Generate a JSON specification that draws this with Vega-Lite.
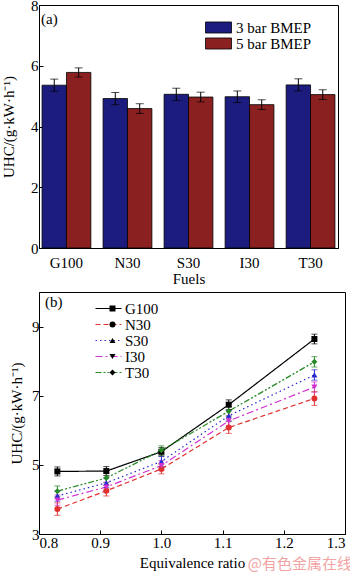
{
  "$schema": "https://vega.github.io/schema/vega-lite/v6.json",
  "padding": {"left": 1, "right": 0, "top": -3, "bottom": 0},
  "background": "white",
  "align": "none",
  "spacing": 4,
  "title": {"text": "@有色金属在线", "orient": "bottom", "anchor": "end", "offset": -14, "dx": 6, "color": "#f2a3a3", "fontSize": 15, "font": "Noto Sans CJK SC", "fontWeight": "normal"},
  "config": {
    "font": "Liberation Serif",
    "view": {"stroke": "black", "strokeWidth": 1},
    "axis": {"labelFont": "Liberation Serif", "titleFont": "Liberation Serif", "labelFontSize": 15, "titleFontSize": 15, "titleFontWeight": "normal", "labelColor": "black", "titleColor": "black", "tickColor": "black", "domainColor": "black", "grid": false},
    "legend": {"labelFont": "Liberation Serif", "labelFontSize": 15, "labelColor": "black", "padding": 0}
  },
  "vconcat": [
    {
      "name": "pa",
      "width": 299,
      "height": 243,
      "title": {"text": "(a)", "anchor": "start", "frame": "group", "offset": -29, "dx": 2, "fontSize": 15, "fontWeight": "normal", "font": "Liberation Serif", "color": "black"},
      "data": {"values": [
        {"fuel": "G100", "bmep": "3 bar BMEP", "value": 5.36, "lo": 5.16, "hi": 5.56},
        {"fuel": "G100", "bmep": "5 bar BMEP", "value": 5.78, "lo": 5.63, "hi": 5.93},
        {"fuel": "N30", "bmep": "3 bar BMEP", "value": 4.92, "lo": 4.72, "hi": 5.12},
        {"fuel": "N30", "bmep": "5 bar BMEP", "value": 4.59, "lo": 4.43, "hi": 4.75},
        {"fuel": "S30", "bmep": "3 bar BMEP", "value": 5.06, "lo": 4.86, "hi": 5.26},
        {"fuel": "S30", "bmep": "5 bar BMEP", "value": 4.97, "lo": 4.81, "hi": 5.13},
        {"fuel": "I30", "bmep": "3 bar BMEP", "value": 4.98, "lo": 4.79, "hi": 5.17},
        {"fuel": "I30", "bmep": "5 bar BMEP", "value": 4.72, "lo": 4.56, "hi": 4.88},
        {"fuel": "T30", "bmep": "3 bar BMEP", "value": 5.37, "lo": 5.17, "hi": 5.57},
        {"fuel": "T30", "bmep": "5 bar BMEP", "value": 5.05, "lo": 4.89, "hi": 5.21}
      ]},
      "encoding": {
        "x": {"field": "fuel", "type": "nominal", "sort": null, "scale": {"paddingInner": 0.2, "paddingOuter": 0.05}, "axis": {"title": "Fuels", "labelAngle": 0, "ticks": false, "labelPadding": 7, "titlePadding": 1}},
        "xOffset": {"field": "bmep", "type": "nominal", "scale": {"paddingInner": 0, "paddingOuter": 0}}
      },
      "layer": [
        {
          "mark": {"type": "bar", "stroke": "black", "strokeWidth": 0.8},
          "encoding": {
            "y": {"field": "value", "type": "quantitative", "scale": {"domain": [0, 8]}, "axis": {"title": "UHC/(g·kW·h⁻¹)", "values": [0, 2, 4, 6, 8], "tickSize": -4, "labelPadding": 5, "titlePadding": 14}},
            "fill": {"field": "bmep", "type": "nominal", "scale": {"range": ["#1c1c7e", "#8b2020"]}, "legend": {"title": null, "orient": "none", "legendX": 172, "legendY": 15, "symbolType": "M-2,-0.85H2V0.85H-2Z", "symbolSize": 169, "symbolStrokeColor": "black", "symbolStrokeWidth": 0.8, "labelOffset": 10, "rowPadding": -5}}
          }
        },
        {
          "mark": {"type": "rule", "color": "black", "strokeWidth": 1},
          "encoding": {"y": {"field": "lo", "type": "quantitative"}, "y2": {"field": "hi"}}
        },
        {
          "mark": {"type": "tick", "color": "black", "size": 8, "thickness": 1, "orient": "horizontal"},
          "encoding": {"y": {"field": "hi", "type": "quantitative"}}
        },
        {
          "mark": {"type": "tick", "color": "black", "size": 8, "thickness": 1, "orient": "horizontal"},
          "encoding": {"y": {"field": "lo", "type": "quantitative"}}
        }
      ]
    },
    {
      "name": "pb",
      "width": 306,
      "height": 242,
      "title": {"text": "(b)", "anchor": "start", "frame": "group", "offset": -18, "dx": 6, "fontSize": 15, "fontWeight": "normal", "font": "Liberation Serif", "color": "black"},
      "data": {"values": [
        {"fuel": "G100", "phi": 0.83, "value": 4.81, "lo": 4.68, "hi": 4.94},
        {"fuel": "G100", "phi": 0.91, "value": 4.82, "lo": 4.69, "hi": 4.95},
        {"fuel": "G100", "phi": 1.0, "value": 5.38, "lo": 5.26, "hi": 5.5},
        {"fuel": "G100", "phi": 1.11, "value": 6.74, "lo": 6.6, "hi": 6.88},
        {"fuel": "G100", "phi": 1.25, "value": 8.64, "lo": 8.5, "hi": 8.78},
        {"fuel": "N30", "phi": 0.83, "value": 3.72, "lo": 3.54, "hi": 3.9},
        {"fuel": "N30", "phi": 0.91, "value": 4.25, "lo": 4.1, "hi": 4.4},
        {"fuel": "N30", "phi": 1.0, "value": 4.88, "lo": 4.74, "hi": 5.02},
        {"fuel": "N30", "phi": 1.11, "value": 6.08, "lo": 5.91, "hi": 6.25},
        {"fuel": "N30", "phi": 1.25, "value": 6.92, "lo": 6.72, "hi": 7.12},
        {"fuel": "S30", "phi": 0.83, "value": 4.1, "lo": 3.95, "hi": 4.25},
        {"fuel": "S30", "phi": 0.91, "value": 4.48, "lo": 4.34, "hi": 4.62},
        {"fuel": "S30", "phi": 1.0, "value": 5.1, "lo": 4.96, "hi": 5.24},
        {"fuel": "S30", "phi": 1.11, "value": 6.42, "lo": 6.27, "hi": 6.57},
        {"fuel": "S30", "phi": 1.25, "value": 7.6, "lo": 7.45, "hi": 7.75},
        {"fuel": "I30", "phi": 0.83, "value": 3.98, "lo": 3.83, "hi": 4.13},
        {"fuel": "I30", "phi": 0.91, "value": 4.36, "lo": 4.22, "hi": 4.5},
        {"fuel": "I30", "phi": 1.0, "value": 4.98, "lo": 4.84, "hi": 5.12},
        {"fuel": "I30", "phi": 1.11, "value": 6.27, "lo": 6.12, "hi": 6.42},
        {"fuel": "I30", "phi": 1.25, "value": 7.25, "lo": 7.1, "hi": 7.4},
        {"fuel": "T30", "phi": 0.83, "value": 4.24, "lo": 4.09, "hi": 4.39},
        {"fuel": "T30", "phi": 0.91, "value": 4.62, "lo": 4.48, "hi": 4.76},
        {"fuel": "T30", "phi": 1.0, "value": 5.42, "lo": 5.29, "hi": 5.55},
        {"fuel": "T30", "phi": 1.11, "value": 6.55, "lo": 6.41, "hi": 6.69},
        {"fuel": "T30", "phi": 1.25, "value": 7.98, "lo": 7.83, "hi": 8.13}
      ]},
      "encoding": {
        "x": {"field": "phi", "type": "quantitative", "scale": {"domain": [0.8, 1.3], "nice": false}, "axis": {"title": "Equivalence ratio", "values": [0.8, 0.9, 1.0, 1.1, 1.2, 1.3], "format": ".1f", "tickSize": -4, "labelPadding": 5, "titlePadding": 5}},
        "color": {"field": "fuel", "type": "nominal", "scale": {"domain": ["G100", "N30", "S30", "I30", "T30"], "range": ["#000000", "#e03030", "#2a2ad0", "#d030d0", "#258a25"]}, "legend": {"title": null, "orient": "none", "legendX": 62, "legendY": 296, "symbolType": "M-2,0H2", "symbolSize": 169, "symbolStrokeWidth": 1.2, "labelOffset": 9, "rowPadding": 0, "encode": {"symbols": {"update": {"stroke": {"scale": "pb_color", "field": "value"}}}}}}
      },
      "layer": [
        {
          "mark": {"type": "line", "strokeWidth": 1.2},
          "encoding": {
            "y": {"field": "value", "type": "quantitative", "scale": {"domain": [3, 10], "nice": false}, "axis": {"title": "UHC/(g·kW·h⁻¹)", "values": [3, 5, 7, 9], "tickSize": -4, "labelPadding": 4, "titlePadding": 7}},
            "strokeDash": {"field": "fuel", "type": "nominal", "scale": {"domain": ["G100", "N30", "S30", "I30", "T30"], "range": [[1, 0], [5, 3], [1.5, 3], [7, 3, 2, 3], [6, 2, 2, 2, 2, 2]]}, "legend": {"title": null, "orient": "none", "legendX": 62, "legendY": 296, "symbolType": "M-2,0H2", "symbolSize": 169, "symbolStrokeWidth": 1.2, "labelOffset": 9, "rowPadding": 0}}
          }
        },
        {
          "mark": {"type": "rule", "strokeWidth": 1},
          "encoding": {"y": {"field": "lo", "type": "quantitative"}, "y2": {"field": "hi"}}
        },
        {
          "mark": {"type": "tick", "size": 6, "thickness": 1, "orient": "horizontal"},
          "encoding": {"y": {"field": "hi", "type": "quantitative"}}
        },
        {
          "mark": {"type": "tick", "size": 6, "thickness": 1, "orient": "horizontal"},
          "encoding": {"y": {"field": "lo", "type": "quantitative"}}
        },
        {
          "mark": {"type": "point", "filled": true, "size": 36, "opacity": 1},
          "encoding": {
            "y": {"field": "value", "type": "quantitative"},
            "shape": {"field": "fuel", "type": "nominal", "sort": null, "scale": {"range": ["square", "circle", "triangle-up", "triangle-down", "diamond"]}, "legend": {"title": null, "orient": "none", "legendX": 66, "legendY": 296, "symbolSize": 36, "symbolStrokeWidth": 0, "labelOpacity": 0, "rowPadding": 0, "encode": {"symbols": {"update": {"fill": {"scale": "pb_color", "field": "value"}}}}}}
          }
        }
      ]
    }
  ]
}
